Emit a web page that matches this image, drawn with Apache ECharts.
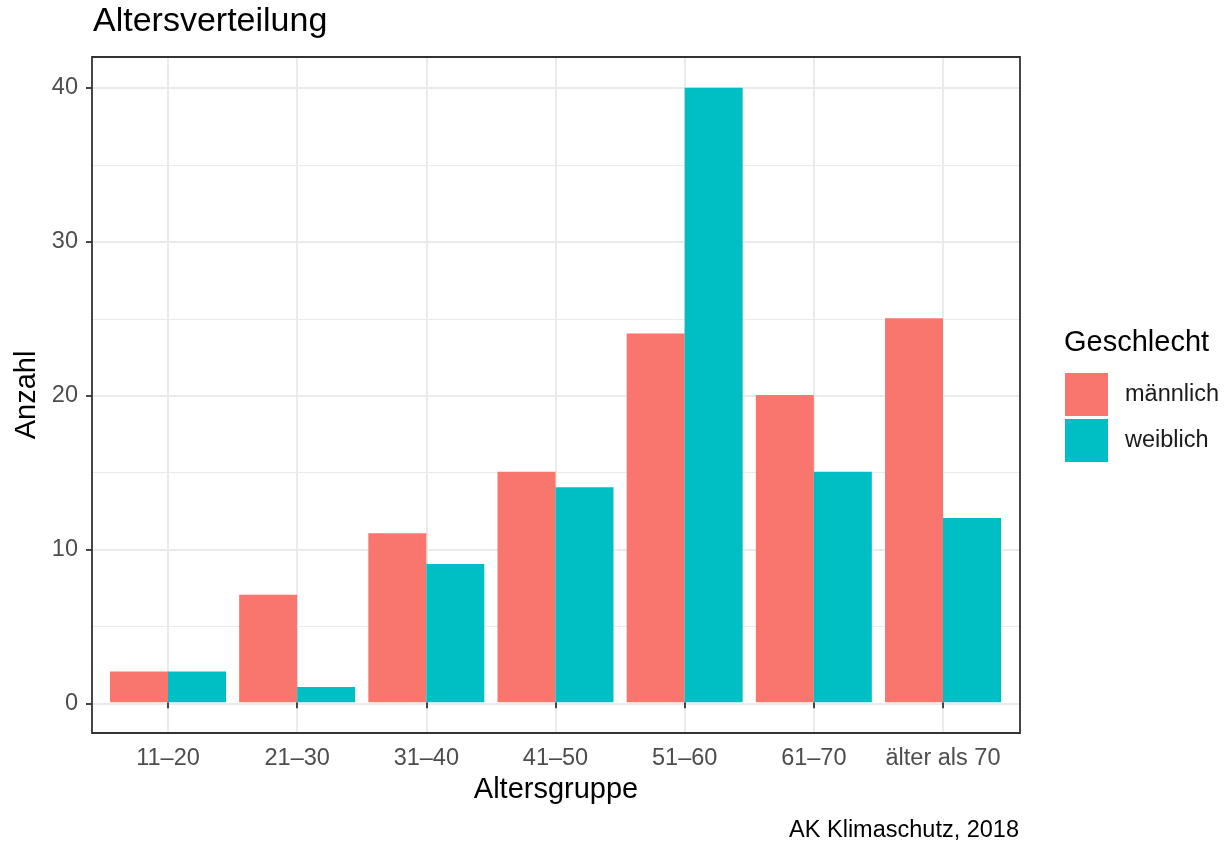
<!DOCTYPE html>
<html><head><meta charset="utf-8">
<script src="https://cdn.jsdelivr.net/npm/echarts@6/dist/echarts.min.js"></script>
<style>html,body{margin:0;padding:0;background:#fff}#c{width:1227px;height:844px}</style>
</head><body><div id="c"></div>
<script>
const categories = ['11–20','21–30','31–40','41–50','51–60','61–70','älter als 70'];
const maleValues = [2,7,11,15,24,20,25];
const femaleValues = [2,1,9,14,40,15,12];
const yTicks = [0,10,20,30,40];
const seriesNames = ['männlich','weiblich'];

const FONT = '"Liberation Sans", Arial, sans-serif';
const chart = echarts.init(document.getElementById('c'), null, {renderer:'canvas'});
chart.setOption({
  animation:false,
  backgroundColor:'#fff',
  textStyle:{fontFamily:FONT},
  grid:[
    {left:92,right:207,top:57,bottom:111,show:true,borderColor:'#333',borderWidth:1.8,backgroundColor:'transparent',z:5},
    {left:92,right:207,top:88,bottom:140.5},
    {left:168,right:284,top:57,bottom:111}
  ],
  xAxis:[
    {gridIndex:0,type:'value',show:false,min:0,max:1},
    {gridIndex:1,type:'value',show:false,min:0,max:1},
    {gridIndex:2,type:'category',data:categories,boundaryGap:false,
      axisLine:{show:false},
      axisTick:{show:true,length:6,lineStyle:{color:'#333',width:1.8}},
      axisLabel:{color:'#4D4D4D',fontSize:23.5,margin:14,fontFamily:FONT,interval:0},
      splitLine:{show:true,lineStyle:{color:'#EBEBEB',width:2}}}
  ],
  yAxis:[
    {gridIndex:0,type:'value',show:false,min:0,max:1},
    {gridIndex:1,type:'value',min:yTicks[0],max:yTicks[yTicks.length-1],interval:yTicks[1]-yTicks[0],
      axisLine:{show:false},
      axisTick:{show:true,length:6,lineStyle:{color:'#333',width:1.8}},
      axisLabel:{color:'#4D4D4D',fontSize:23.5,margin:14,fontFamily:FONT},
      splitLine:{show:true,lineStyle:{color:'#EBEBEB',width:2}},
      minorTick:{show:false,splitNumber:2},
      minorSplitLine:{show:true,lineStyle:{color:'#EBEBEB',width:1}}},
    {gridIndex:2,type:'value',show:false,min:-2,max:42}
  ],
  legend:{
    orient:'vertical',left:1065,top:373,itemWidth:43,itemHeight:43,itemGap:3,padding:0,
    icon:'rect',data:seriesNames,
    textStyle:{fontSize:23.5,color:'#1a1a1a',fontFamily:FONT,padding:[6,0,0,12]}
  },
  series:[
    {name:seriesNames[0],type:'bar',xAxisIndex:2,yAxisIndex:2,data:maleValues,
      barWidth:58,barGap:'0%',clip:false,itemStyle:{color:'#F8766D'},z:3},
    {name:seriesNames[1],type:'bar',xAxisIndex:2,yAxisIndex:2,data:femaleValues,
      barWidth:58,barGap:'0%',clip:false,itemStyle:{color:'#00BFC4'},z:3}
  ],
  graphic:[
    {type:'text',x:93,y:22,style:{text:'Altersverteilung',fontSize:34,fontFamily:FONT,fill:'#000',align:'left',verticalAlign:'middle'}},
    {type:'text',x:556,y:790,style:{text:'Altersgruppe',fontSize:29,fontFamily:FONT,fill:'#000',align:'center',verticalAlign:'middle'}},
    {type:'text',x:27,y:395,rotation:Math.PI/2,style:{text:'Anzahl',fontSize:29,fontFamily:FONT,fill:'#000',align:'center',verticalAlign:'middle'}},
    {type:'text',x:1064,y:343,style:{text:'Geschlecht',fontSize:29,fontFamily:FONT,fill:'#000',align:'left',verticalAlign:'middle'}},
    {type:'text',x:1019,y:830.5,style:{text:'AK Klimaschutz, 2018',fontSize:23.5,fontFamily:FONT,fill:'#000',align:'right',verticalAlign:'middle'}}
  ]
});
</script></body></html>
